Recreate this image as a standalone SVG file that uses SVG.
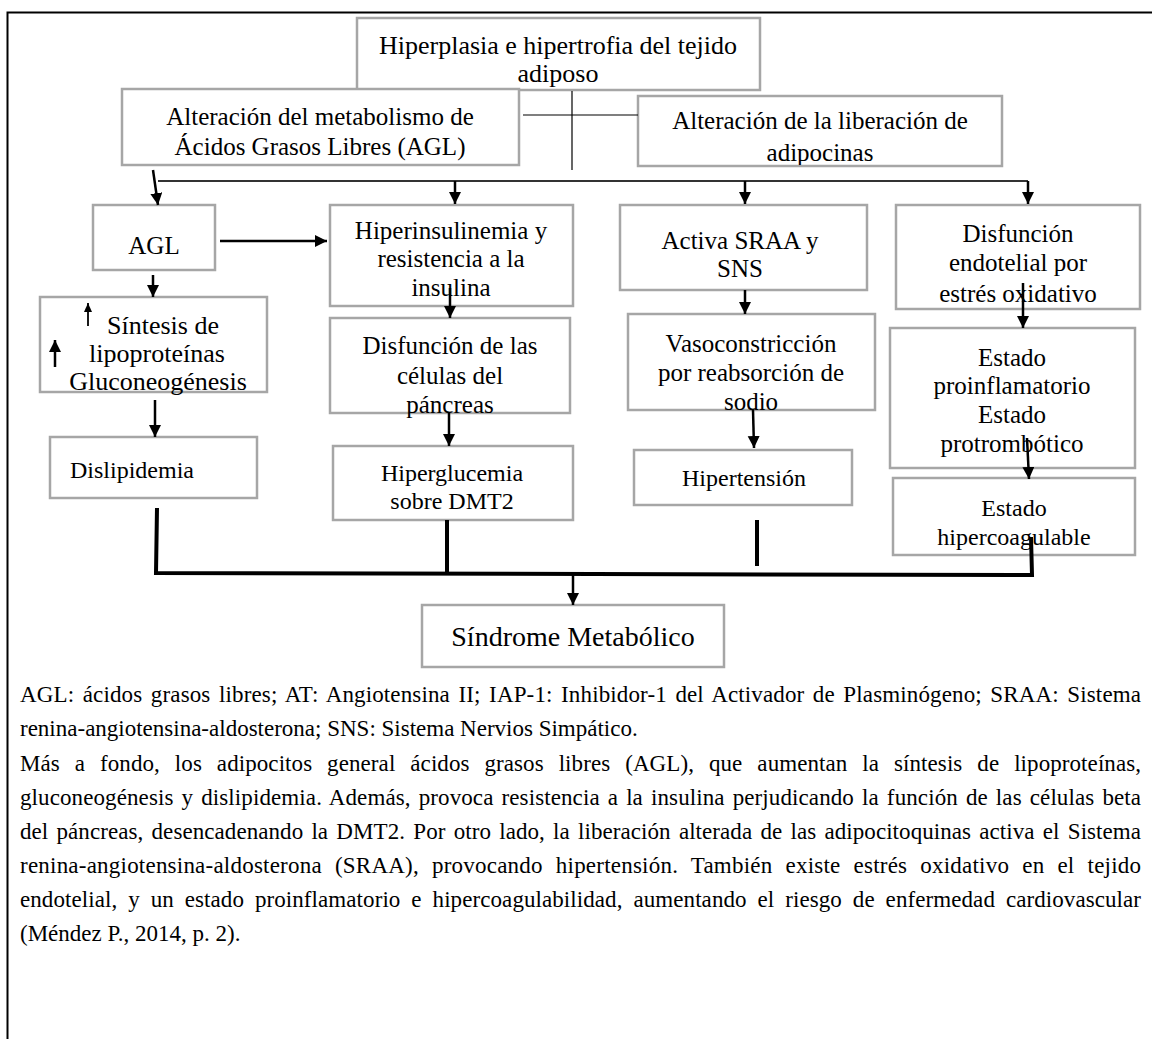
<svg xmlns="http://www.w3.org/2000/svg" width="1152" height="1039" viewBox="0 0 1152 1039">
<defs>
<style>
.box{fill:#fff;stroke:#a6a6a6;stroke-width:2.5}
.t{font-family:"Liberation Serif","Times New Roman",serif;font-size:25px;fill:#000;text-anchor:middle}
.s{font-size:24px}
.p{font-family:"Liberation Serif","Times New Roman",serif;font-size:23px;fill:#000}
.thin{stroke:#333;stroke-width:2;fill:none}
.hair{stroke:#000;stroke-width:1.2;fill:none}
.arr{stroke:#000;stroke-width:2.5;fill:none;marker-end:url(#ah)}
.thick{stroke:#000;stroke-width:4;fill:none}
</style>
<marker id="ah" markerUnits="userSpaceOnUse" markerWidth="14" markerHeight="14" refX="12" refY="6" orient="auto">
<path d="M0,0 L12,6 L0,12 z" fill="#000"/>
</marker>
<marker id="ahs" markerUnits="userSpaceOnUse" markerWidth="10" markerHeight="10" refX="9" refY="4" orient="auto">
<path d="M0,0 L9,4 L0,8 z" fill="#000"/>
</marker>
<clipPath id="c-adip"><rect x="638" y="96" width="364" height="69"/></clipPath>
<clipPath id="c-endot"><rect x="896" y="205" width="244" height="101"/></clipPath>
</defs>
<rect x="0" y="0" width="1152" height="1039" fill="#fff"/>
<path d="M1152,12.5 H7.5 V1039" stroke="#000" stroke-width="2" fill="none"/>

<g id="n-hiperplasia"><rect class="box" x="357" y="18" width="403" height="72"/>
<text class="t" x="558" y="54" style="font-size:26px">Hiperplasia e hipertrofia del tejido</text>
<text class="t" x="558" y="82" style="font-size:26px">adiposo</text></g>

<g id="n-alt-agl"><rect class="box" x="122" y="89" width="397" height="76"/>
<text class="t" x="320" y="125">Alteración del metabolismo de</text>
<text class="t" x="320" y="155">Ácidos Grasos Libres (AGL)</text></g>

<g id="n-alt-adip"><rect class="box" x="638" y="96" width="364" height="70"/>
<g clip-path="url(#c-adip)">
<text class="t" x="820" y="129">Alteración de la liberación de</text>
<text class="t" x="820" y="161">adipocinas</text></g></g>

<g id="n-agl"><rect class="box" x="93" y="205" width="122" height="65"/>
<text class="t" x="154" y="254">AGL</text></g>

<g id="n-hiperins"><rect class="box" x="330" y="205" width="243" height="101"/>
<text class="t" x="451" y="239">Hiperinsulinemia y</text>
<text class="t" x="451" y="267">resistencia a la</text>
<text class="t" x="451" y="296">insulina</text></g>

<g id="n-sraa"><rect class="box" x="620" y="205" width="247" height="85"/>
<text class="t" x="740" y="249">Activa SRAA y</text>
<text class="t" x="740" y="277">SNS</text></g>

<g id="n-endot"><rect class="box" x="896" y="205" width="244" height="104"/>
<g clip-path="url(#c-endot)">
<text class="t" x="1018" y="242">Disfunción</text>
<text class="t" x="1018" y="271">endotelial por</text>
<text class="t" x="1018" y="302">estrés oxidativo</text></g></g>

<g id="n-sintesis"><rect class="box" x="40" y="297" width="227" height="95"/>
<text class="t" x="163" y="334" style="font-size:26px">Síntesis de</text>
<text class="t" x="157" y="362" style="font-size:26px">lipoproteínas</text>
<text class="t" x="158" y="390" style="font-size:26px">Gluconeogénesis</text></g>

<g id="n-disf-cel"><rect class="box" x="330" y="318" width="240" height="95"/>
<text class="t" x="450" y="354">Disfunción de las</text>
<text class="t" x="450" y="384">células del</text>
<text class="t" x="450" y="413">páncreas</text></g>

<g id="n-vaso"><rect class="box" x="628" y="314" width="247" height="96"/>
<text class="t" x="751" y="352">Vasoconstricción</text>
<text class="t" x="751" y="381">por reabsorción de</text>
<text class="t" x="751" y="410">sodio</text></g>

<g id="n-proinf"><rect class="box" x="890" y="328" width="245" height="140"/>
<text class="t" x="1012" y="366">Estado</text>
<text class="t" x="1012" y="394">proinflamatorio</text>
<text class="t" x="1012" y="423">Estado</text>
<text class="t" x="1012" y="452">protrombótico</text></g>

<g id="n-dislip"><rect class="box" x="50" y="437" width="207" height="61"/>
<text class="t s" x="70" y="478" style="text-anchor:start">Dislipidemia</text></g>

<g id="n-hipergluc"><rect class="box" x="333" y="446" width="240" height="74"/>
<text class="t s" x="452" y="481">Hiperglucemia</text>
<text class="t s" x="452" y="509">sobre DMT2</text></g>

<g id="n-hta"><rect class="box" x="634" y="450" width="218" height="55"/>
<text class="t s" x="744" y="486">Hipertensión</text></g>

<g id="n-hipercoag"><rect class="box" x="893" y="478" width="242" height="77"/>
<text class="t s" x="1014" y="516">Estado</text>
<text class="t s" x="1014" y="545">hipercoagulable</text></g>

<g id="n-sindrome"><rect class="box" x="422" y="605" width="302" height="62"/>
<text class="t" x="573" y="646" style="font-size:28px">Síndrome Metabólico</text></g>

<g id="connectors">
<line class="hair" x1="572" y1="91" x2="572" y2="170"/>
<line class="hair" x1="523" y1="115" x2="638" y2="115"/>
<line class="thin" x1="158" y1="181" x2="1028" y2="181"/>
<line class="arr" x1="153" y1="170" x2="158" y2="205"/>
<line class="arr" x1="455" y1="181" x2="455" y2="204"/>
<line class="arr" x1="745" y1="181" x2="745" y2="204"/>
<line class="arr" x1="1028" y1="181" x2="1028" y2="204"/>
<line class="arr" x1="220" y1="241" x2="327" y2="241"/>
<line class="arr" x1="153" y1="275" x2="153" y2="297"/>
<line class="arr" x1="155" y1="400" x2="155" y2="437"/>
<line class="arr" x1="450" y1="288" x2="450" y2="318"/>
<line class="arr" x1="449" y1="413" x2="449" y2="446"/>
<line class="arr" x1="745" y1="290" x2="745" y2="314"/>
<line class="arr" x1="753" y1="410" x2="754" y2="448"/>
<line class="arr" x1="1023" y1="283" x2="1023" y2="328"/>
<line class="arr" x1="1027" y1="438" x2="1029" y2="479"/>
<line x1="88" y1="326" x2="88" y2="303" stroke="#000" stroke-width="1.8" marker-end="url(#ahs)"/>
<line x1="55" y1="367" x2="55" y2="340" stroke="#000" stroke-width="2.5" marker-end="url(#ah)"/>
<path class="thick" d="M157,508 L156,573 L1032,575 L1031,537"/>
<line class="thick" x1="447" y1="520" x2="447" y2="574"/>
<line class="thick" x1="757" y1="520" x2="757" y2="566"/>
<line class="arr" x1="573" y1="574" x2="573" y2="605"/>
</g>

<g id="caption">
<text class="p" x="20" y="702" word-spacing="2.6" textLength="1121" lengthAdjust="spacing">AGL: ácidos grasos libres; AT: Angiotensina II; IAP-1: Inhibidor-1 del Activador de Plasminógeno; SRAA: Sistema</text>
<text class="p" x="20" y="736">renina-angiotensina-aldosterona; SNS: Sistema Nervios Simpático.</text>
<text class="p" x="20" y="771" word-spacing="9.1" textLength="1121" lengthAdjust="spacing">Más a fondo, los adipocitos general ácidos grasos libres (AGL), que aumentan la síntesis de lipoproteínas,</text>
<text class="p" x="20" y="805" word-spacing="2.2" textLength="1121" lengthAdjust="spacing">gluconeogénesis y dislipidemia. Además, provoca resistencia a la insulina perjudicando la función de las células beta</text>
<text class="p" x="20" y="839" word-spacing="2.4" textLength="1121" lengthAdjust="spacing">del páncreas, desencadenando la DMT2. Por otro lado, la liberación alterada de las adipocitoquinas activa el Sistema</text>
<text class="p" x="20" y="873" word-spacing="7.1" textLength="1121" lengthAdjust="spacing">renina-angiotensina-aldosterona (SRAA), provocando hipertensión. También existe estrés oxidativo en el tejido</text>
<text class="p" x="20" y="907" word-spacing="5.1" textLength="1121" lengthAdjust="spacing">endotelial, y un estado proinflamatorio e hipercoagulabilidad, aumentando el riesgo de enfermedad cardiovascular</text>
<text class="p" x="20" y="941">(Méndez P., 2014, p. 2).</text>
</g>
</svg>
